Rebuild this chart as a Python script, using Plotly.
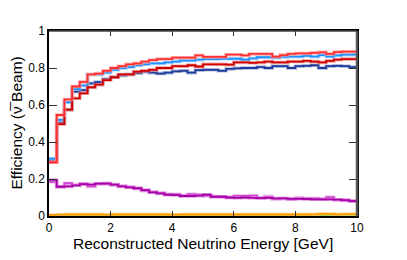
import plotly.graph_objects as go

BIN_WIDTH = 0.25
N_BINS = 40
edges = [i * BIN_WIDTH for i in range(N_BINS + 1)]

dark_blue = [0.30, 0.505, 0.575, 0.672, 0.68, 0.717, 0.724, 0.74, 0.75, 0.76,
             0.765, 0.772, 0.78, 0.775, 0.77, 0.775, 0.782, 0.785, 0.775, 0.788,
             0.79, 0.79, 0.785, 0.795, 0.798, 0.80, 0.80, 0.805, 0.80, 0.81,
             0.81, 0.80, 0.81, 0.812, 0.815, 0.80, 0.81, 0.812, 0.81, 0.805]
light_blue = [0.31, 0.52, 0.615, 0.686, 0.705, 0.765, 0.765, 0.775, 0.79, 0.80,
              0.805, 0.815, 0.82, 0.825, 0.825, 0.83, 0.835, 0.84, 0.84, 0.845,
              0.848, 0.848, 0.85, 0.85, 0.85, 0.845, 0.852, 0.858, 0.858, 0.856,
              0.86, 0.862, 0.862, 0.866, 0.862, 0.87, 0.862, 0.868, 0.872, 0.872]
dark_red = [0.29, 0.497, 0.575, 0.636, 0.663, 0.696, 0.71, 0.735, 0.75, 0.765,
            0.765, 0.78, 0.785, 0.79, 0.80, 0.80, 0.81, 0.81, 0.815, 0.808,
            0.82, 0.82, 0.82, 0.818, 0.83, 0.83, 0.828, 0.83, 0.835, 0.83,
            0.83, 0.835, 0.835, 0.838, 0.835, 0.83, 0.838, 0.845, 0.848, 0.848]
bright_red = [0.29, 0.546, 0.63, 0.70, 0.725, 0.765, 0.77, 0.785, 0.80, 0.81,
              0.82, 0.825, 0.834, 0.843, 0.848, 0.848, 0.856, 0.856, 0.856, 0.868,
              0.86, 0.86, 0.86, 0.872, 0.872, 0.868, 0.876, 0.876, 0.876, 0.861,
              0.87, 0.876, 0.879, 0.879, 0.882, 0.885, 0.876, 0.886, 0.888, 0.888]
magenta_dark = [0.195, 0.158, 0.16, 0.166, 0.172, 0.17, 0.175, 0.175, 0.17, 0.16,
                0.155, 0.15, 0.14, 0.128, 0.122, 0.115, 0.113, 0.108, 0.108, 0.11,
                0.115, 0.104, 0.104, 0.10, 0.098, 0.10, 0.098, 0.097, 0.098, 0.095,
                0.095, 0.093, 0.093, 0.092, 0.09, 0.09, 0.09, 0.088, 0.086, 0.081]
magenta_light = [0.185, 0.158, 0.177, 0.166, 0.175, 0.16, 0.175, 0.177, 0.168, 0.162,
                 0.155, 0.148, 0.137, 0.13, 0.125, 0.118, 0.118, 0.11, 0.118, 0.115,
                 0.11, 0.106, 0.104, 0.10, 0.108, 0.108, 0.11, 0.097, 0.105, 0.092,
                 0.095, 0.09, 0.098, 0.094, 0.095, 0.09, 0.102, 0.088, 0.084, 0.08]
orange = [0.006, 0.007, 0.008, 0.008, 0.008, 0.008, 0.008, 0.007, 0.008, 0.008,
          0.008, 0.008, 0.008, 0.008, 0.008, 0.008, 0.007, 0.008, 0.008, 0.008,
          0.008, 0.008, 0.008, 0.008, 0.008, 0.008, 0.008, 0.008, 0.008, 0.008,
          0.008, 0.008, 0.008, 0.008, 0.009, 0.012, 0.011, 0.009, 0.010, 0.010]
green = [0.002, 0.002, 0.002, 0.002, 0.002, 0.002, 0.002, 0.002, 0.002, 0.002,
         0.002, 0.002, 0.002, 0.002, 0.002, 0.002, 0.002, 0.002, 0.002, 0.002,
         0.002, 0.002, 0.002, 0.002, 0.002, 0.002, 0.002, 0.002, 0.002, 0.002,
         0.002, 0.002, 0.002, 0.002, 0.002, 0.002, 0.002, 0.002, 0.002, 0.002]

x_ticks = [0, 2, 4, 6, 8, 10]
y_ticks = [0, 0.2, 0.4, 0.6, 0.8, 1]
y_tick_labels = ["0", "0.2", "0.4", "0.6", "0.8", "1"]

series = [
    (green, "#66cc33", "#b3e699"),
    (orange, "#ff9900", "#ffcc80"),
    (magenta_light, "#d040d0", "#eaa0ea"),
    (magenta_dark, "#a800a8", "#d580d5"),
    (dark_blue, "#1f3c9c", "#8f9fd0"),
    (light_blue, "#1e90ff", "#8fc8ff"),
    (dark_red, "#d00000", "#ea8080"),
    (bright_red, "#ff3030", "#ff9a9a"),
]

fig = go.Figure()
for vals, core, halo in series:
    ys = vals + [vals[-1]]
    fig.add_trace(go.Scatter(x=edges, y=ys, mode="lines", line_shape="hv",
                             line=dict(color=halo, width=3.5), opacity=0.7,
                             hoverinfo="skip", showlegend=False))
    fig.add_trace(go.Scatter(x=edges, y=ys, mode="lines", line_shape="hv",
                             line=dict(color=core, width=1.8),
                             showlegend=False))

font_family = "Liberation Sans, Arial, sans-serif"
fig.update_layout(
    width=399, height=252,
    margin=dict(l=41, r=50, t=23, b=44),
    paper_bgcolor="white", plot_bgcolor="white",
    font=dict(family=font_family, size=12, color="black"),
    xaxis=dict(range=[0, 10], tickvals=x_ticks, ticks="inside", ticklen=5,
               tickwidth=1, tickcolor="#333", showline=True, linecolor="black",
               linewidth=1.5, mirror="ticks", showgrid=False, zeroline=False,
               tickfont=dict(size=12), automargin=False),
    yaxis=dict(range=[0, 1], tickvals=y_ticks, ticktext=y_tick_labels,
               ticks="inside", ticklen=8, tickwidth=1, tickcolor="#333",
               showline=True, linecolor="black", linewidth=1.5, mirror="ticks",
               showgrid=False, zeroline=False, tickfont=dict(size=12),
               automargin=False),
    shapes=[
        dict(type="line", xref="paper", yref="paper", x0=1, x1=1, y0=0, y1=1,
             line=dict(color="#555555", width=2.5)),
        dict(type="line", xref="paper", yref="paper", x0=0, x1=1, y0=1, y1=1,
             line=dict(color="#444444", width=1.5)),
    ],
    annotations=[
        dict(text="Reconstructed Neutrino Energy [GeV]", xref="paper", yref="paper",
             x=0.5, y=0, yshift=-27, yanchor="middle", showarrow=False,
             font=dict(size=15.5, family=font_family)),
        dict(text="Efficiency (\u03bd\u0305 Beam)", xref="paper", yref="paper",
             x=0, xshift=-33, y=0.5, xanchor="center", yanchor="middle",
             textangle=-90, showarrow=False,
             font=dict(size=15.5, family=font_family)),
    ],
)

fig.write_html("out.html")
